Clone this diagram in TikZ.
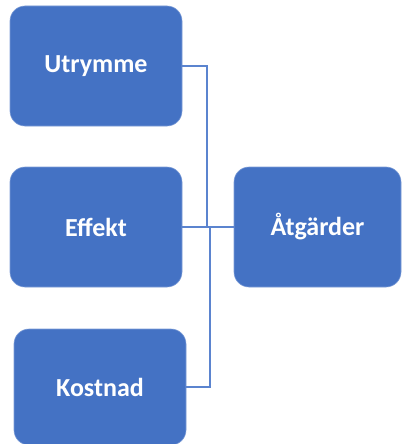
\documentclass[tikz,border=0pt]{standalone}
\usepackage{fontspec}
\setmainfont{Carlito}
\definecolor{boxblue}{HTML}{4472C4}
\definecolor{lineblue}{HTML}{5B84CF}
\begin{document}
\begin{tikzpicture}[x=1pt,y=-1pt,
  box/.style={rectangle, rounded corners=15pt, fill=boxblue, draw=boxblue!70!white, line width=0.6pt,
    minimum width=172pt, minimum height=120pt, text=white, font=\fontsize{26}{30}\selectfont\bfseries, inner sep=0pt},
  conn/.style={draw=lineblue, line width=1.6pt}]
\useasboundingbox (0,0) rectangle (402,444);
\node[box] (u) at (96,66) {Utrymme};
\node[box] (e) at (96,227) {Effekt};
\node[box, minimum width=167pt] (a) at (317.5,227) {Åtgärder};
\node[box, minimum height=116pt] (k) at (100,387) {Kostnad};
\coordinate (j1) at (207,227);
\coordinate (j2) at (210,227);
\draw[conn] (u.east) -| (j1);
\draw[conn] (k.east) -| (j2);
\draw[conn] (e.east) -- (a.west);
\end{tikzpicture}
\end{document}
